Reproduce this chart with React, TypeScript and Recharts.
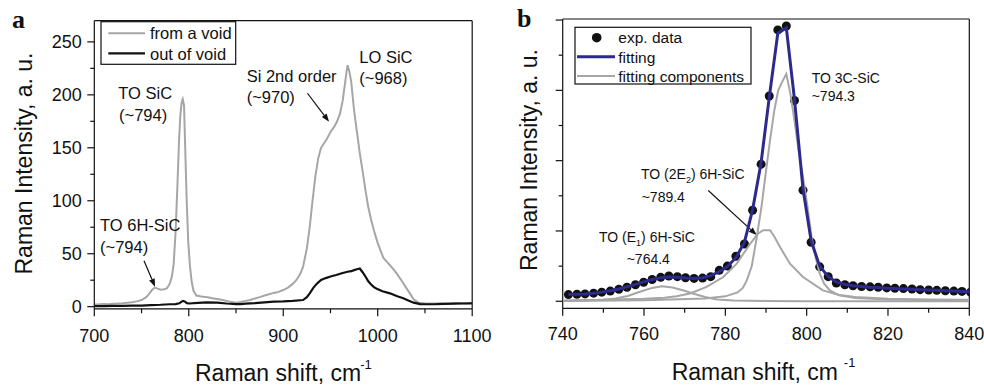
import React from 'react';
import { ComposedChart, Line, XAxis, YAxis, ReferenceLine } from 'recharts';

const FONT = '"Liberation Sans", Arial, Helvetica, sans-serif';
const GRAY = '#a6a6a6';
const BLUE = '#2c2a8c';
const INK = '#111111';

// ---------------- Panel a ----------------
const voidShift = [700,705,710,715,720,725,730,735,740,745,750,755,758,761,764,767,770,774,777,780,782,784,786,788,789.7,791,792.5,793.6,795,796,797.8,799.5,801.3,803,805,808,812,815,820,825,830,836,842,850,855,860,865,870,875,882,890,895,900,905,910,914,918,921,925,928,931,934,937,940,943,946,950,954,957,960,963,966,968,970,972,975,978,981,984,987,990,993,996,1000,1003,1006,1010,1015,1020,1025,1030,1034,1038,1043,1050,1060,1066,1075,1085,1092,1100];
const voidIntensity = [2,2.2,2.5,2.3,2.8,3,3.2,3.8,4.2,5,6.3,9,12,15.7,18,17,16,16.5,17.4,22,28,40,70,115,157,180,193,196,190,157,100,60,38,24,15,10.5,9.8,9.4,8.8,8,7.2,6.3,5,3.8,4.5,5.5,6.3,7.8,9,11,13,14,15.7,18,21.5,25.2,31,37.8,55,75,100,123,140,150,154,158,165,170,175,182,195,215,228,222,212,185,165,145,128,110,94,82,72,60,53,46,42,37,31.5,25,18,12.6,7,3.8,3.2,3,3.2,2.8,3.5,3,3.8];
const outShift = [700,710,720,730,740,750,760,770,780,786,790,792,794,796,798,800,810,819,830,840,850,855,860,870,880,890,900,910,921,925,928,932,936,940,945,950,956,962,968,972,975,978,981,984,987,990,993,996,999,1005,1013,1020,1027,1033,1038,1045,1050,1060,1070,1080,1090,1100];
const outIntensity = [0.5,0.6,0.8,0.8,1,1,1.5,1.8,2.3,2.5,3.2,4.5,5.5,4.8,3.3,3,3.6,4.1,3.8,3,2.5,2.5,2.8,3.3,4,4.7,5,5.5,6.3,9,12.6,18,22,25.2,27,28.5,29.9,31.5,33,33.5,34.5,35.3,36,32.5,28.5,24,21,18.5,17,14.5,12.6,10,7.9,5.5,3.8,2.5,2.3,2.3,2.6,2.8,3,3.2];

const aXTicks = [700, 750, 800, 850, 900, 950, 1000, 1050, 1100];
const aXLabels = [700, 800, 900, 1000, 1100];
const aYTicks = [0, 25, 50, 75, 100, 125, 150, 175, 200, 225, 250];
const aYLabels = [0, 50, 100, 150, 200, 250];

// ---------------- Panel b ----------------
const expShift = [741.4,743.5,745.5,747.6,749.6,751.7,753.8,755.8,757.9,759.9,762.0,764.1,766.1,768.2,770.2,772.3,774.4,776.4,778.5,780.5,782.6,784.7,786.7,788.8,790.8,792.9,795.0,797.0,799.1,801.1,803.2,805.3,807.3,809.4,811.4,813.5,815.6,817.6,819.7,821.7,823.8,825.9,827.9,830.0,832.0,834.1,836.2,838.2,840.3];
const expIntensity = [0.19,0.2,0.21,0.23,0.26,0.29,0.34,0.4,0.47,0.54,0.62,0.68,0.72,0.7,0.67,0.65,0.66,0.7,0.88,1.0,1.28,1.63,2.59,3.9,5.84,7.72,7.83,5.71,3.16,1.68,0.98,0.7,0.52,0.47,0.44,0.42,0.41,0.4,0.38,0.37,0.36,0.35,0.33,0.32,0.31,0.3,0.29,0.28,0.26];
const fitIntensity = [0.19,0.2,0.21,0.23,0.26,0.3,0.35,0.41,0.48,0.55,0.62,0.67,0.69,0.68,0.66,0.65,0.67,0.73,0.84,0.99,1.24,1.68,2.6,3.95,5.8,7.62,7.78,5.75,3.2,1.72,1.0,0.7,0.55,0.48,0.44,0.42,0.4,0.39,0.37,0.36,0.35,0.34,0.33,0.32,0.31,0.3,0.29,0.28,0.27];

const e1Shift = [740,745,750,753,756,759,762,764.4,767,770,772,775,778,782,790,800,840];
const e1Intensity = [0.01,0.02,0.04,0.08,0.15,0.27,0.38,0.43,0.39,0.3,0.22,0.12,0.05,0.02,0.01,0,0];
const e2Shift = [740,750,760,765,768,771.3,775.4,779.5,782.8,786,788,789.3,791,792,793.4,795.9,799.1,804,808,812,820,830,840];
const e2Intensity = [0.02,0.04,0.07,0.1,0.14,0.22,0.41,0.69,1.07,1.62,1.92,2.02,2.02,1.85,1.55,1.07,0.69,0.31,0.18,0.12,0.07,0.05,0.04];
const c3Shift = [740,760,775,780,783,784.3,785.3,786.5,787.7,788.9,790,790.9,792,793,794,795,796,797.1,798,799.1,800.2,801.2,802.2,803.2,804.3,805.7,808,812,820,830,840];
const c3Intensity = [0.01,0.03,0.08,0.14,0.25,0.38,0.6,1.0,1.8,2.7,3.7,4.5,5.4,6.0,6.25,6.47,5.9,5.06,4.3,3.54,2.7,1.83,1.25,0.79,0.5,0.31,0.17,0.09,0.05,0.03,0.02];

const bXTicks = [740, 750, 760, 770, 780, 790, 800, 810, 820, 830, 840];
const bXLabels = [740, 760, 780, 800, 820, 840];
const bYTicks = [0, 1, 2, 3, 4, 5, 6, 7, 8];
const bYMajor = [0, 2, 4, 6, 8];

const zip = (xs: number[], ys: number[]) => xs.map((x, i) => ({ x, y: ys[i] }));

const voidData = zip(voidShift, voidIntensity);
const outData = zip(outShift, outIntensity);
const expData = zip(expShift, expIntensity);
const fitData = zip(expShift, fitIntensity);
const e1Data = zip(e1Shift, e1Intensity);
const e2Data = zip(e2Shift, e2Intensity);
const c3Data = zip(c3Shift, c3Intensity);

const makeXTick = (labels: number[], labelDy: number) => (props: any) => {
  const { x, y, payload } = props;
  const major = labels.includes(payload.value);
  return (
    <g>
      <line x1={x} x2={x} y1={y} y2={y + (major ? 7.5 : 4.5)} stroke={INK} strokeWidth={1.2} />
      {major && (
        <text x={x} y={y + labelDy} textAnchor="middle" fontFamily={FONT} fontSize={18} fill={INK}>
          {payload.value}
        </text>
      )}
    </g>
  );
};

const makeYTick = (majors: number[], withLabels: boolean) => (props: any) => {
  const { x, y, payload } = props;
  const major = majors.includes(payload.value);
  return (
    <g>
      <line x1={x} x2={x - (major ? 7 : 4)} y1={y} y2={y} stroke={INK} strokeWidth={1.2} />
      {withLabels && major && (
        <text x={x - 12.6} y={y + 6.4} textAnchor="end" fontFamily={FONT} fontSize={18} fill={INK}>
          {payload.value}
        </text>
      )}
    </g>
  );
};

const Arrow = (props: any) => {
  const { x1, y1, x2, y2 } = props;
  const ang = Math.atan2(y2 - y1, x2 - x1);
  const L = 8;
  const W = 3;
  const bx = x2 - L * Math.cos(ang);
  const by = y2 - L * Math.sin(ang);
  const px = -Math.sin(ang) * W;
  const py = Math.cos(ang) * W;
  return (
    <g>
      <line x1={x1} y1={y1} x2={bx} y2={by} stroke={INK} strokeWidth={1.2} />
      <polygon points={`${x2},${y2} ${bx + px},${by + py} ${bx - px},${by - py}`} fill={INK} />
    </g>
  );
};

const PanelA = () => (
  <ComposedChart width={500} height={385} margin={{ top: 20.7, left: 54.3, right: 27.8, bottom: 46.2 }}>
    <XAxis
      dataKey="x"
      type="number"
      domain={[700, 1100]}
      ticks={aXTicks}
      interval={0}
      allowDataOverflow
      height={30}
      tickSize={0}
      tickMargin={0}
      tickLine={false}
      axisLine={{ stroke: INK, strokeWidth: 1.2 }}
      tick={makeXTick(aXLabels, 32.7)}
    />
    <YAxis
      type="number"
      domain={[-2, 270]}
      ticks={aYTicks}
      interval={0}
      allowDataOverflow
      width={40}
      tickSize={0}
      tickMargin={0}
      tickLine={false}
      axisLine={{ stroke: INK, strokeWidth: 1.2 }}
      tick={makeYTick(aYLabels, true)}
    />
    <ReferenceLine y={270} stroke={INK} strokeWidth={1.2} />
    <ReferenceLine x={1100} stroke={INK} strokeWidth={1.2} />
    <Line data={voidData} dataKey="y" type="linear" stroke={GRAY} strokeWidth={2} dot={false} isAnimationActive={false} />
    <Line data={outData} dataKey="y" type="linear" stroke={INK} strokeWidth={2.2} dot={false} isAnimationActive={false} />
    <ReferenceLine segment={[{ x: 752.6, y: 43.4 }, { x: 764.3, y: 18.9 }]} shape={Arrow} ifOverflow="visible" />
    <ReferenceLine segment={[{ x: 925.6, y: 201.5 }, { x: 948.5, y: 174.7 }]} shape={Arrow} ifOverflow="visible" />
  </ComposedChart>
);

const PanelB = () => (
  <ComposedChart width={494} height={385} margin={{ top: 19, left: 32.7, right: 14.7, bottom: 46.7 }}>
    <XAxis
      dataKey="x"
      type="number"
      domain={[740, 840]}
      ticks={bXTicks}
      interval={0}
      allowDataOverflow
      height={30}
      tickSize={0}
      tickMargin={0}
      tickLine={false}
      axisLine={{ stroke: INK, strokeWidth: 1.2 }}
      tick={makeXTick(bXLabels, 31.7)}
    />
    <YAxis
      type="number"
      domain={[-0.2, 8.03]}
      ticks={bYTicks}
      interval={0}
      allowDataOverflow
      width={40}
      tickSize={0}
      tickMargin={0}
      tickLine={false}
      axisLine={{ stroke: INK, strokeWidth: 1.2 }}
      tick={makeYTick(bYMajor, false)}
    />
    <ReferenceLine y={8.03} stroke={INK} strokeWidth={1.2} />
    <ReferenceLine x={840} stroke={INK} strokeWidth={1.2} />
    <Line data={expData} dataKey="y" stroke="none" strokeWidth={0} dot={{ r: 4.5, fill: INK, stroke: 'none' }} isAnimationActive={false} />
    <Line {...({ zIndex: 1400 } as any)} data={e1Data} dataKey="y" type="linear" stroke={GRAY} strokeWidth={2} dot={false} isAnimationActive={false} />
    <Line {...({ zIndex: 1400 } as any)} data={e2Data} dataKey="y" type="linear" stroke={GRAY} strokeWidth={2} dot={false} isAnimationActive={false} />
    <Line {...({ zIndex: 1400 } as any)} data={c3Data} dataKey="y" type="linear" stroke={GRAY} strokeWidth={2} dot={false} isAnimationActive={false} />
    <Line {...({ zIndex: 1500 } as any)} data={fitData} dataKey="y" type="linear" stroke={BLUE} strokeWidth={3} dot={false} isAnimationActive={false} />
    <ReferenceLine segment={[{ x: 775.8, y: 3.15 }, { x: 787.7, y: 1.885 }]} shape={Arrow} ifOverflow="visible" />
  </ComposedChart>
);

const T = (p: any) => <text fontFamily={FONT} fill={INK} {...p} />;

const Overlay = () => (
  <svg width={984} height={385} style={{ position: 'absolute', left: 0, top: 0, pointerEvents: 'none' }}>
    {/* panel letters */}
    <text x={12} y={28} fontFamily='"Liberation Serif", "Times New Roman", serif' fontWeight="bold" fontSize={26} fill={INK}>a</text>
    <text x={517} y={27} fontFamily='"Liberation Serif", "Times New Roman", serif' fontWeight="bold" fontSize={26} fill={INK}>b</text>

    {/* axis titles */}
    <T transform="translate(31.5,163.5) rotate(-90)" textAnchor="middle" fontSize={23}>Raman Intensity, a. u.</T>
    <T x={195} y={381} fontSize={23}>Raman shift, cm<tspan fontSize={13} dx={-1} dy={-12}>-1</tspan></T>
    <T transform="translate(537,160) rotate(-90)" textAnchor="middle" fontSize={23}>Raman Intensity, a. u.</T>
    <T x={671.7} y={380} fontSize={23}>Raman shift, cm<tspan fontSize={13} dx={6} dy={-13}>-1</tspan></T>

    {/* legend a */}
    <rect x={101} y={21.7} width={134.7} height={42.6} fill="#fff" stroke={INK} strokeWidth={1.2} />
    <line x1={108.3} x2={145} y1={33.3} y2={33.3} stroke={GRAY} strokeWidth={2} />
    <line x1={108.3} x2={145} y1={53.3} y2={53.3} stroke={INK} strokeWidth={2.2} />
    <T x={150} y={39.3} fontSize={16.5}>from a void</T>
    <T x={150} y={59.5} fontSize={16.5}>out of void</T>

    {/* annotations a */}
    <T x={118.3} y={99.2} fontSize={16.5}>TO SiC</T>
    <T x={119} y={121} fontSize={16.5}>(~794)</T>
    <T x={100} y={231} fontSize={16.5}>TO 6H-SiC</T>
    <T x={100} y={252.5} fontSize={16.5}>(~794)</T>
    <T x={246.7} y={82} fontSize={16.5}>Si 2nd order</T>
    <T x={246.7} y={102.5} fontSize={16.5}>(~970)</T>
    <T x={359.3} y={63.2} fontSize={16.5}>LO SiC</T>
    <T x={359.3} y={84.2} fontSize={16.5}>(~968)</T>

    {/* legend b */}
    <rect x={575} y={27.3} width={176} height={56.7} fill="#fff" stroke={INK} strokeWidth={1.2} />
    <circle cx={596.7} cy={37.7} r={4.8} fill={INK} />
    <line x1={577} x2={615} y1={56.7} y2={56.7} stroke={BLUE} strokeWidth={3} />
    <line x1={577} x2={615} y1={76} y2={76} stroke={GRAY} strokeWidth={2} />
    <T x={618.3} y={43.3} fontSize={15.5}>exp. data</T>
    <T x={618.3} y={62.5} fontSize={15.5}>fitting</T>
    <T x={618.3} y={81.7} fontSize={15.5}>fitting components</T>

    {/* annotations b */}
    <T x={811.7} y={83.3} fontSize={14}>TO 3C-SiC</T>
    <T x={811.7} y={100.7} fontSize={14}>~794.3</T>
    <T x={641} y={179} fontSize={14}>TO (2E<tspan fontSize={9} dy={4}>2</tspan><tspan dy={-4}>) 6H-SiC</tspan></T>
    <T x={641.7} y={201.7} fontSize={14}>~789.4</T>
    <T x={599} y={241.7} fontSize={14}>TO (E<tspan fontSize={9} dy={4}>1</tspan><tspan dy={-4}>) 6H-SiC</tspan></T>
    <T x={626.7} y={264.3} fontSize={14}>~764.4</T>
  </svg>
);

export default function App() {
  return (
    <div style={{ position: 'absolute', left: 0, top: 0, width: 984, height: 385, background: '#fff', overflow: 'hidden' }}>
      <div style={{ position: 'absolute', left: 0, top: 0 }}>
        <PanelA />
      </div>
      <div style={{ position: 'absolute', left: 490, top: 0 }}>
        <PanelB />
      </div>
      <Overlay />
    </div>
  );
}
